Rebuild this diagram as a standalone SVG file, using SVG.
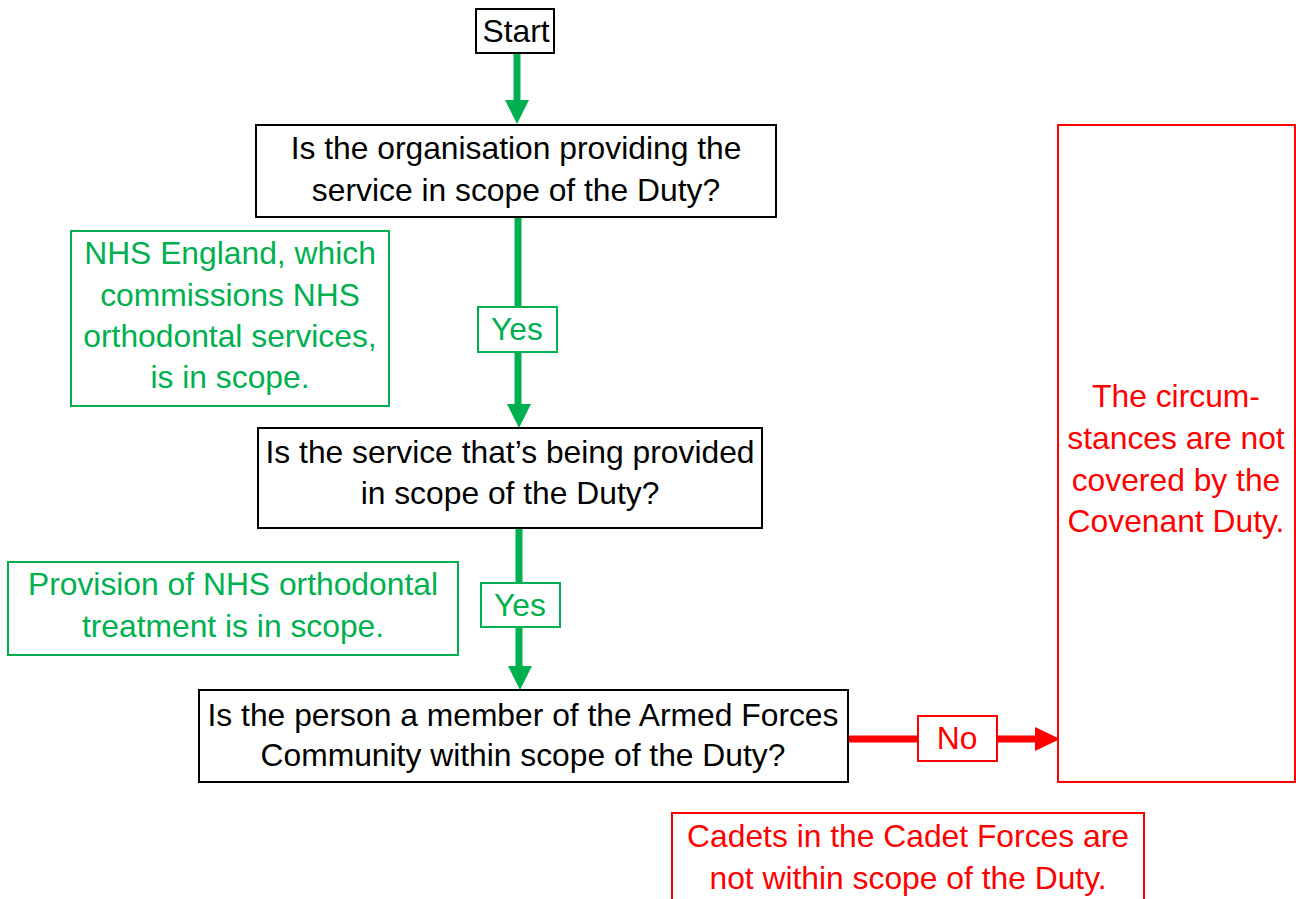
<svg xmlns="http://www.w3.org/2000/svg" width="1296" height="899" viewBox="0 0 1296 899">
<style>
text{font-family:"Liberation Sans",Arial,sans-serif;font-size:31.8px;text-anchor:middle}
.b{fill:#fff;stroke:#000;stroke-width:2}
.g{fill:#fff;stroke:#00B050;stroke-width:2}
.r{fill:#fff;stroke:#FF0000;stroke-width:2}
.tb{fill:#000}.tg{fill:#00B050}.tr{fill:#FF0000}
.lg{stroke:#00B050;stroke-width:7;fill:none}
.lr{stroke:#FF0000;stroke-width:7;fill:none}
</style>
<rect width="1296" height="899" fill="#fff"/>
<g id="connectors">
<line class="lg" x1="517" y1="54" x2="517" y2="102"/>
<polygon points="505,100 529,100 517,124" fill="#00B050"/>
<line class="lg" x1="518" y1="217" x2="518" y2="407"/>
<polygon points="507,404 531,404 519,428" fill="#00B050"/>
<line class="lg" x1="519" y1="528" x2="519" y2="668"/>
<polygon points="508,666 532,666 520,690" fill="#00B050"/>
<line class="lr" x1="848" y1="739" x2="1038" y2="739"/>
<polygon points="1035,727 1035,751 1060,739" fill="#FF0000"/>
</g>
<g id="start"><rect class="b" x="476" y="9" width="78" height="44"/><text class="tb" x="516" y="42">Start</text></g>
<g id="q1"><rect class="b" x="256" y="125" width="520" height="92"/><text class="tb" x="516" y="159">Is the organisation providing the</text><text class="tb" x="516" y="201">service in scope of the Duty?</text></g>
<g id="yes1"><rect class="g" x="478" y="307" width="79" height="45"/><text class="tg" x="517" y="340">Yes</text></g>
<g id="note1"><rect class="g" x="71" y="231" width="318" height="175"/><text class="tg" x="230" y="264">NHS England, which</text><text class="tg" x="230" y="306">commissions NHS</text><text class="tg" x="230" y="347">orthodontal services,</text><text class="tg" x="230" y="388">is in scope.</text></g>
<g id="q2"><rect class="b" x="258" y="428" width="504" height="100"/><text class="tb" x="510" y="463">Is the service that’s being provided</text><text class="tb" x="510" y="504">in scope of the Duty?</text></g>
<g id="yes2"><rect class="g" x="481" y="583" width="79" height="44"/><text class="tg" x="520" y="616">Yes</text></g>
<g id="note2"><rect class="g" x="8" y="562" width="450" height="93"/><text class="tg" x="233" y="595">Provision of NHS orthodontal</text><text class="tg" x="233" y="637">treatment is in scope.</text></g>
<g id="q3"><rect class="b" x="199" y="690" width="649" height="92"/><text class="tb" x="523" y="726">Is the person a member of the Armed Forces</text><text class="tb" x="523" y="766">Community within scope of the Duty?</text></g>
<g id="no"><rect class="r" x="918" y="716" width="79" height="45"/><text class="tr" x="957" y="749">No</text></g>
<g id="outcome"><rect class="r" x="1058" y="125" width="237" height="657"/><text class="tr" x="1176" y="407">The circum-</text><text class="tr" x="1176" y="449">stances are not</text><text class="tr" x="1176" y="491">covered by the</text><text class="tr" x="1176" y="532">Covenant Duty.</text></g>
<g id="note3"><rect class="r" x="672" y="813" width="472" height="100"/><text class="tr" x="908" y="847">Cadets in the Cadet Forces are</text><text class="tr" x="908" y="889">not within scope of the Duty.</text></g>
</svg>
